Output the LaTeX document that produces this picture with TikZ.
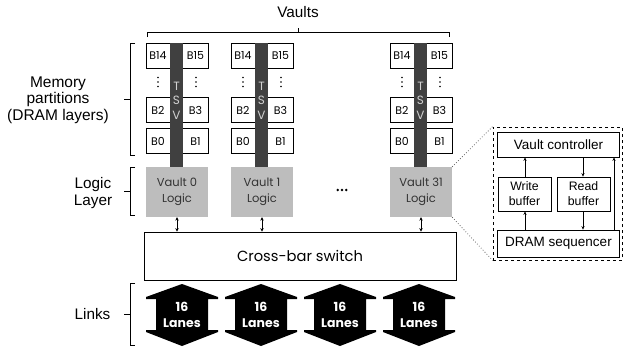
\documentclass[tikz,border=0pt]{standalone}
\usepackage{fontspec}
\setmainfont{Liberation Sans}
\newfontfamily\mont{Poppins}
\usetikzlibrary{arrows.meta}
\definecolor{tsvc}{HTML}{404040}
\definecolor{logicc}{HTML}{BDBDBD}
\tikzset{
  bank/.style={draw=black, line width=0.8pt, minimum width=62pt, minimum height=25pt, inner sep=0pt},
  btxt/.style={font=\mont\fontsize{11}{12}\selectfont, inner sep=0pt},
  tsvtxt/.style={font=\mont\fontsize{12}{12}\selectfont, inner sep=0pt, text=black!18},
  logicbox/.style={fill=logicc, minimum width=62pt, minimum height=50pt, inner sep=0pt, align=center,
     text=black!80, font=\mont\fontsize{11.5}{15.5}\selectfont},
  dbl/.style={{Stealth[length=3.5pt,width=3.4pt]}-{Stealth[length=3.5pt,width=3.4pt]}, line width=0.7pt},
  brace/.style={line width=1pt},
  lbl/.style={font=\fontsize{15.3}{17}\selectfont, align=center, inner sep=0pt},
  ibox/.style={draw=black, line width=0.8pt, inner sep=0pt, align=center},
  iarr/.style={-{Stealth[length=3.5pt,width=3.2pt]}, line width=0.8pt},
  lanes/.style={text=white, font=\mont\bfseries\fontsize{12.5}{16}\selectfont, align=center, inner sep=0pt},
}
\begin{document}
\begin{tikzpicture}[x=1pt,y=-1pt]
\useasboundingbox (0,0) rectangle (624,348);
% Vaults label + top brace
\node[lbl] (vaults) at (298,12) {Vaults};
\draw[brace] (147,37) -- (147,32.5) -- (449,32.5) -- (449,37);
\draw[brace] (298,32.5) -- (298,27.5);
% Vault columns
\foreach \n/\x in {0/146, 1/231, 31/390} {
  \node[bank] (bA\n) at (\x+31,55.5) {};
  \node[bank] (bB\n) at (\x+31,110) {};
  \node[bank] (bC\n) at (\x+31,141) {};
  \node[btxt] (t14\n) at (\x+12,56) {B14};
  \node[btxt] (t15\n) at (\x+49.5,56) {B15};
  \node[btxt] (t2\n) at (\x+12,110.5) {B2};
  \node[btxt] (t3\n) at (\x+49.5,110.5) {B3};
  \node[btxt] (t0\n) at (\x+12,141.5) {B0};
  \node[btxt] (t1\n) at (\x+49.5,141.5) {B1};
  \foreach \dx in {12,50} {
    \foreach \dy in {77.5,82,86.5} {
      \fill (\x+\dx,\dy) circle (0.95pt);
    }
  }
  \fill[tsvc] (\x+24,43) rectangle (\x+37,167);
  \node[tsvtxt] (tT\n) at (\x+30.5,86) {T};
  \node[tsvtxt] (tS\n) at (\x+30.5,100.5) {S};
  \node[tsvtxt] (tV\n) at (\x+30.5,115) {V};
  \node[logicbox] (L\n) at (\x+31,192) {Vault \n\\Logic};
}
% ellipsis between vaults
\foreach \dx in {-4.2,0,4.2} { \fill (342+\dx,190) circle (1.4pt); }
% Crossbar
\node[draw=black, line width=0.8pt, minimum width=312pt, minimum height=48pt, inner sep=0pt,
      font=\mont\fontsize{14.7}{16}\selectfont] (xbar) at (300,256) {Cross-bar switch};
\foreach \n in {0,1,31} { \draw[dbl] (L\n.south) -- (L\n.south |- xbar.north); }
% Links
\foreach \c [count=\i] in {182,261,340,419} {
  \fill[black] (\c,284) -- (\c+36,297) -- (\c+36,299) -- (\c+26,299) -- (\c+26,330) -- (\c+36,330)
     -- (\c+36,332) -- (\c,346) -- (\c-36,332) -- (\c-36,330) -- (\c-26,330) -- (\c-26,299)
     -- (\c-36,299) -- (\c-36,297) -- cycle;
  \node[lanes] (lk\i) at (\c,314.5) {16\\Lanes};
}
% left braces
\draw[brace] (135,43) -- (130,43) -- (130,155) -- (135,155);
\draw[brace] (130,99) -- (124,99);
\node[lbl, font=\fontsize{15.5}{16.5}\selectfont] (mem) at (58,100) {Memory\\partitions\\(DRAM layers)};
\draw[brace] (135,167) -- (130,167) -- (130,215) -- (135,215);
\draw[brace] (130,191) -- (124,191);
\node[lbl] (logl) at (93,193) {Logic\\Layer};
\draw[brace] (135,283) -- (130,283) -- (130,345) -- (135,345);
\draw[brace] (130,314) -- (124,314);
\node[lbl] (links) at (92.5,314) {Links};
% Zoom box
\node[draw=black, dashed, line width=0.8pt, minimum width=129pt, minimum height=133pt, inner sep=0pt] (zoom) at (557.5,193.5) {};
\draw[dotted, black!60, line width=0.8pt] (L31.north east) -- (zoom.north west);
\draw[dotted, black!60, line width=0.8pt] (L31.south east) -- (zoom.south west);
\node[ibox, minimum width=122pt, minimum height=25pt, font=\fontsize{13.5}{15}\selectfont] (vc) at (558.5,144.5) {Vault controller};
\node[ibox, minimum width=53pt, minimum height=34pt, font=\fontsize{12.3}{15}\selectfont] (wb) at (524.5,194) {Write\\buffer};
\node[ibox, minimum width=53pt, minimum height=34pt, font=\fontsize{12.3}{15}\selectfont] (rb) at (583.5,194) {Read\\buffer};
\node[ibox, minimum width=122pt, minimum height=27pt, font=\fontsize{13.5}{15}\selectfont] (ds) at (558.5,243.5) {DRAM sequencer};
\draw[iarr] (wb.north -| 525,0) -- (vc.south -| 525,0);
\draw[iarr] (ds.north -| 525,0) -- (wb.south -| 525,0);
\draw[iarr] (vc.south -| 583,0) -- (rb.north -| 583,0);
\draw[iarr] (rb.south -| 583,0) -- (ds.north -| 583,0);
\draw[iarr] (ds.north -| 614,0) -- (vc.south -| 614,0);
\end{tikzpicture}
\end{document}
